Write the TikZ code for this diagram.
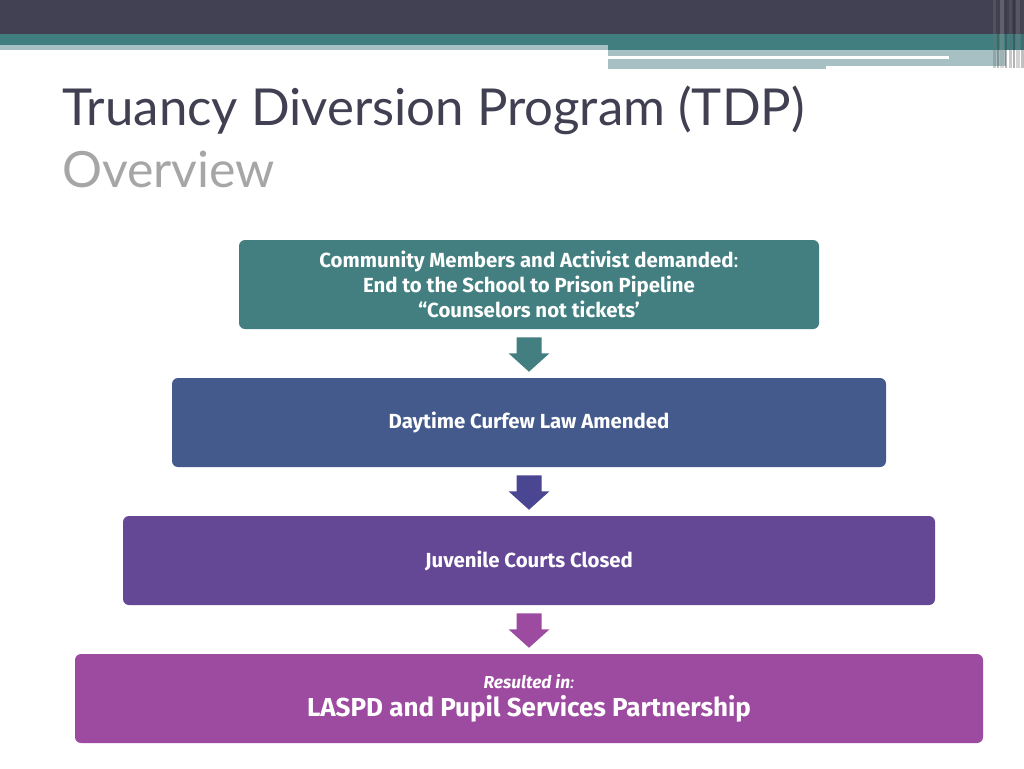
\documentclass[tikz,border=0pt]{standalone}
\usepackage{fontspec}
\setmainfont{Lato}
\newfontfamily\boxfont{Fira Sans}
\usetikzlibrary{calc}

\definecolor{bandDark}{HTML}{424154}
\definecolor{bandTeal}{HTML}{417E80}
\definecolor{bandLight}{HTML}{A6C0C4}
\definecolor{titleDark}{HTML}{404052}
\definecolor{titleGray}{HTML}{A6A6A6}
\definecolor{stageTeal}{HTML}{437F80}
\definecolor{stageBlue}{HTML}{455A8C}
\definecolor{arrowBlue}{HTML}{4B4691}
\definecolor{stagePurple}{HTML}{644896}
\definecolor{stageMagenta}{HTML}{9D4BA0}

% block arrow between two stages: colour, upper node, lower node
\newcommand{\flowarrow}[3]{%
  \fill[#1] ($(#2.south)+(-12.5,8)$) -- ++(25,0) -- ++(0,16) -- ++(8,0)
    -- ($(#3.north)+(0,-6)$) -- ($(#2.south)+(-20.5,24)$) -- ++(8,0) -- cycle;
}

\begin{document}
\begin{tikzpicture}[
				x=0.75pt, y=-0.75pt,
				stage/.style={rectangle, rounded corners=4.5pt, minimum height=66.75pt,
					text=white, align=center, font=\boxfont\bfseries\fontsize{15.3}{18.75}\selectfont},
				]
				\useasboundingbox[fill=white] (0,0) rectangle (1024,768);
				% header bands
				\fill[bandDark] (0,0) rectangle (1024,34);
				\fill[bandTeal] (0,34) rectangle (1024,45);
				\fill[bandLight] (0,45) rectangle (608,50);
				\fill[bandTeal] (608,45) rectangle (1024,50);
				\fill[bandLight] (608,50) rectangle (1006,66);
				\fill[bandLight] (608,66) rectangle (826,69);
				\fill[white] (608,55.5) rectangle (949,58.5);
				\foreach \sx/\sw/\sg in {993/3/55, 997/2/75, 1000/4/40, 1005/2/80, 1009/3/60, 1013/2/85, 1016/4/50, 1021/3/70}
					\fill[black!\sg, opacity=0.35] (\sx,0) rectangle ++(\sw,68);
				% title
				\node[anchor=base west, inner sep=0, text=titleDark, font=\fontsize{38.2}{44}\selectfont] (title) at (62,125) {Truancy Diversion Program (TDP)};
				\node[anchor=base west, inner sep=0, text=titleGray, font=\fontsize{37.5}{44}\selectfont] (subtitle) at (62,187) {Overview};
				% stages
				\node[stage, fill=stageTeal, minimum width=435pt] (demand) at (529,284.5)
					{\raisebox{1.5pt}{\parbox{400pt}{\centering Community Members and Activist demanded\textmd{:}\\ End to the School to Prison Pipeline\\ “Counselors not tickets’}}};
				\node[stage, fill=stageBlue, minimum width=535.5pt] (curfew) at (529,422.5) {Daytime Curfew Law Amended};
				\node[stage, fill=stagePurple, minimum width=609pt] (courts) at (529,560.5) {Juvenile Courts Closed};
				\node[stage, fill=stageMagenta, minimum width=681pt] (result) at (529,698.5)
					{{\itshape\fontsize{13}{15}\selectfont Resulted in\textmd{:}}\\[2pt] {\fontsize{19.5}{22}\selectfont LASPD and Pupil Services Partnership}};
				% arrows
				\flowarrow{stageTeal}{demand}{curfew}
				\flowarrow{arrowBlue}{curfew}{courts}
				\flowarrow{stageMagenta}{courts}{result}
			\end{tikzpicture}
\end{document}
